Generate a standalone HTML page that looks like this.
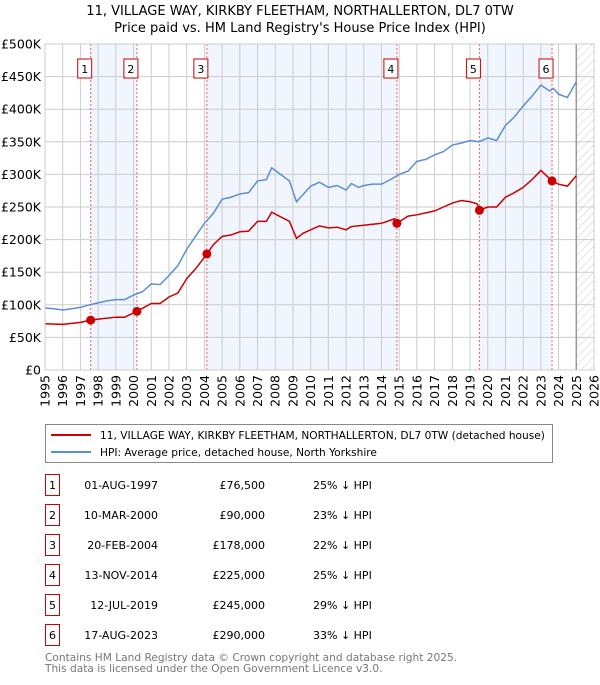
<!DOCTYPE html>
<html><head><meta charset="utf-8"><style>
body{margin:0;background:#fff;font-family:"Liberation Sans","DejaVu Sans",sans-serif;}
svg text{font-family:"DejaVu Sans","Liberation Sans",sans-serif;}
</style></head><body>
<svg id="c" width="600" height="680" xmlns="http://www.w3.org/2000/svg">
<defs><pattern id="hatch" width="6" height="6" patternUnits="userSpaceOnUse" patternTransform="rotate(45)"><line x1="0" y1="0" x2="0" y2="6" stroke="#ccc" stroke-width="1"/></pattern></defs>
<text x="300" y="15" text-anchor="middle" font-size="13">11, VILLAGE WAY, KIRKBY FLEETHAM, NORTHALLERTON, DL7 0TW</text>
<text x="300" y="32" text-anchor="middle" font-size="13">Price paid vs. HM Land Registry's House Price Index (HPI)</text>
<g id="plot"></g>
<g>
<rect x="45.5" y="424.5" width="507" height="38" fill="#fff" stroke="#888"/>
<line x1="51" y1="435" x2="91" y2="435" stroke="#cc0000" stroke-width="2"/>
<text x="100" y="439" font-size="10.6">11, VILLAGE WAY, KIRKBY FLEETHAM, NORTHALLERTON, DL7 0TW (detached house)</text>
<line x1="51" y1="452" x2="91" y2="452" stroke="#5b8fd4" stroke-width="2"/>
<text x="100" y="456" font-size="10.6">HPI: Average price, detached house, North Yorkshire</text>
</g>
<g id="table" font-size="11"></g>
<text x="45" y="661" font-size="10.6" fill="#777">Contains HM Land Registry data © Crown copyright and database right 2025.</text>
<text x="45" y="672" font-size="10.6" fill="#777">This data is licensed under the Open Government Licence v3.0.</text>
</svg>
<script>
const hpiYears=[1995,1995.5,1996,1996.5,1997,1997.5,1998,1998.5,1999,1999.5,2000,2000.5,2001,2001.5,2002,2002.5,2003,2003.5,2004,2004.5,2005,2005.5,2006,2006.5,2007,2007.5,2007.8,2008.3,2008.8,2009.2,2009.6,2010,2010.5,2011,2011.5,2012,2012.3,2012.7,2013,2013.5,2014,2014.5,2015,2015.5,2016,2016.5,2017,2017.5,2018,2018.5,2019,2019.5,2020,2020.5,2021,2021.5,2022,2022.5,2023,2023.5,2023.7,2024,2024.5,2025];
const hpiValues=[95,94,92,94,96,100,103,106,108,108,115,120,132,131,145,160,185,205,225,240,262,265,270,272,290,292,310,300,290,258,270,282,288,280,283,276,286,280,283,285,285,292,300,305,320,323,330,335,345,348,352,350,356,352,375,388,405,420,437,428,432,423,418,442];
const ppYears=[1995,1996,1997,1997.58,1998,1999,1999.5,2000.19,2001,2001.5,2002,2002.5,2003,2003.5,2004.14,2004.5,2005,2005.5,2006,2006.5,2007,2007.5,2007.8,2008.3,2008.8,2009.2,2009.6,2010,2010.5,2011,2011.5,2012,2012.3,2013,2014,2014.75,2014.87,2015.5,2016,2016.5,2017,2017.5,2018,2018.5,2019,2019.4,2019.53,2020,2020.5,2021,2021.5,2022,2022.5,2023,2023.63,2024,2024.5,2025];
const ppValues=[71,70,73,76.5,78,81,81,90,102,102,112,118,140,155,178,192,205,207,212,213,228,228,242,235,228,202,210,215,221,218,219,215,220,222,225,232,225,236,238,241,244,250,256,260,258,255,245,250,250,265,272,280,292,306,290,285,282,298];
const saleLabels=["1","2","3","4","5","6"];
const saleDates=[1997.58,2000.19,2004.14,2014.87,2019.53,2023.63];
const salePrices=[76.5,90,178,225,245,290];
const saleDateText=["01-AUG-1997","10-MAR-2000","20-FEB-2004","13-NOV-2014","12-JUL-2019","17-AUG-2023"];
const salePriceText=["£76,500","£90,000","£178,000","£225,000","£245,000","£290,000"];
const saleHpiText=["25% ↓ HPI","23% ↓ HPI","22% ↓ HPI","25% ↓ HPI","29% ↓ HPI","33% ↓ HPI"];
const yTicks=[0,50,100,150,200,250,300,350,400,450,500];
const yTickLabels=["£0","£50K","£100K","£150K","£200K","£250K","£300K","£350K","£400K","£450K","£500K"];
const xTicks=[1995,1996,1997,1998,1999,2000,2001,2002,2003,2004,2005,2006,2007,2008,2009,2010,2011,2012,2013,2014,2015,2016,2017,2018,2019,2020,2021,2022,2023,2024,2025,2026];

const NS="http://www.w3.org/2000/svg";
const X0=45,X1=594,Y0=370,Y1=44;
const x=v=>X0+(v-1995)*(X1-X0)/31;
const y=v=>Y0-(v)*(Y0-Y1)/500;
const plot=document.getElementById('plot');
function mk(t,a,p){const e=document.createElementNS(NS,t);for(const k in a)e.setAttribute(k,a[k]);(p||plot).appendChild(e);return e;}
for(let i=0;i<saleDates.length;i+=2){
 const end=i+1<saleDates.length?saleDates[i+1]:2025;
 const r=mk('rect',{x:x(saleDates[i]),y:Y1,width:x(end)-x(saleDates[i]),height:Y0-Y1,fill:'#eef3fc',opacity:0.8});
 
 
}
const hr=mk('rect',{x:x(2025),y:Y1,width:x(2026)-x(2025),height:Y0-Y1,fill:'url(#hatch)'});


xTicks.forEach(t=>{
 const l=mk('line',{x1:x(t),x2:x(t),y1:Y1,y2:Y0,stroke:'#ccc','stroke-width':1});
 
 
 const tx=mk('text',{x:0,y:0,'font-size':12.5,'text-anchor':'end',transform:`translate(${x(t)+4.5},${Y0+5}) rotate(-90)`});
 tx.textContent=t;
 
 
});
yTicks.forEach((t,i)=>{
 const l=mk('line',{x1:X0,x2:X1,y1:y(t),y2:y(t),stroke:'#ccc','stroke-width':1});
 
 
 const tx=mk('text',{x:41,y:y(t)+4.5,'font-size':12.5,'text-anchor':'end'});
 tx.textContent=yTickLabels[i];
 
 
});
const vl=mk('line',{x1:x(2025),x2:x(2025),y1:Y1,y2:Y0,stroke:'#999','stroke-width':1.5});


saleDates.forEach((d,i)=>{
 const l=mk('line',{x1:x(d),x2:x(d),y1:Y1,y2:Y0,stroke:'#f06060','stroke-width':1,'stroke-dasharray':'2,2'});
 
 
 const b=mk('rect',{x:x(d)-13,y:59,width:14,height:19,fill:'#fff',stroke:'#cc0000'});
 
 
 const t=mk('text',{x:x(d)-6,y:73,'font-size':11,'text-anchor':'middle'});
 t.textContent=saleLabels[i];
 
 
});
function line(xs,vs,col,name){
 const p=mk('polyline',{points:xs.map((v,i)=>x(v)+','+y(vs[i])).join(' '),fill:'none',stroke:col,'stroke-width':1.5});
 
 
}
line(hpiYears,hpiValues,'#5b8fd4','hpi-line');
line(ppYears,ppValues,'#cc0000','price-paid-line');
saleDates.forEach((d,i)=>{
 const c=mk('circle',{cx:x(d),cy:y(salePrices[i]),r:4.5,fill:'#cc0000'});
 
 
});
mk('rect',{x:X0,y:Y1,width:X1-X0,height:Y0-Y1,fill:'none',stroke:'#ccc'});
const tb=document.getElementById('table');
saleLabels.forEach((s,i)=>{
 const cy=485+i*30;
 const b=mk('rect',{x:45.5,y:cy-10.5,width:14,height:21,fill:'#fff',stroke:'#cc0000'},tb);
 
 
 const t=mk('text',{x:52.5,y:cy+4,'text-anchor':'middle'},tb);t.textContent=s;
 
 
 const d=mk('text',{x:158,y:cy+4,'text-anchor':'end'},tb);d.textContent=saleDateText[i];
 
 
 const p=mk('text',{x:265,y:cy+4,'text-anchor':'end'},tb);p.textContent=salePriceText[i];
 
 
 const h=mk('text',{x:313,y:cy+4},tb);h.textContent=saleHpiText[i];
 
 
});
</script>
</body></html>
